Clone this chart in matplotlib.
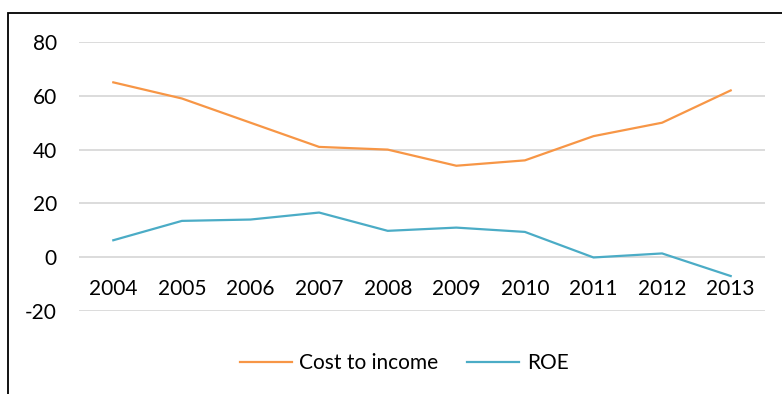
import matplotlib
matplotlib.use("Agg")
import matplotlib.pyplot as plt
from matplotlib.patches import Rectangle

years = ["2004", "2005", "2006", "2007", "2008", "2009", "2010", "2011", "2012", "2013"]
cost_to_income = [65, 59, 50, 41, 40, 34, 36, 45, 50, 62]
roe = [6.3, 13.5, 14.0, 16.6, 9.8, 11.0, 9.4, -0.1, 1.4, -7.0]
yticks = [-20, 0, 20, 40, 60, 80]

plt.rcParams['font.family'] = ['Lato', 'DejaVu Sans']

W, H = 782, 394
fig = plt.figure(figsize=(W / 100, H / 100), dpi=100)
ax = fig.add_axes([79 / W, 1 - 311 / H, (765 - 79) / W, (311 - 42) / H])

x = list(range(len(years)))
ax.plot(x, cost_to_income, color="#F79646", lw=1.6, label="Cost to income")
ax.plot(x, roe, color="#4BACC6", lw=1.6, label="ROE")

ax.set_xlim(-0.5, len(years) - 0.5)
ax.set_ylim(-20, 80)
ax.set_yticks(yticks)
ax.set_yticklabels([str(v) for v in yticks])
ax.set_xticks(x)
ax.set_xticklabels(years)
ax.grid(axis='y', color="#D9D9D9", lw=1.3)
ax.set_axisbelow(True)
for s in ["top", "right", "left"]:
    ax.spines[s].set_visible(False)
ax.spines["bottom"].set_position(("data", 0))
ax.spines["bottom"].set_visible(False)
ax.tick_params(axis='both', length=0, labelsize=15, colors="#000000")
ax.tick_params(axis='y', pad=16)
ax.tick_params(axis='x', pad=16)

fig.legend(loc="center", bbox_to_anchor=(404 / W, 1 - 363 / H), ncol=2, frameon=False,
           fontsize=15, handlelength=2.5, handletextpad=0.35, columnspacing=1.4)

fig.patches.append(Rectangle((8 / W, -0.1), 1.2, 1 - 13 / H + 0.1, transform=fig.transFigure,
                             fill=False, edgecolor="black", lw=1.3))

fig.savefig("out.png", dpi=100)
